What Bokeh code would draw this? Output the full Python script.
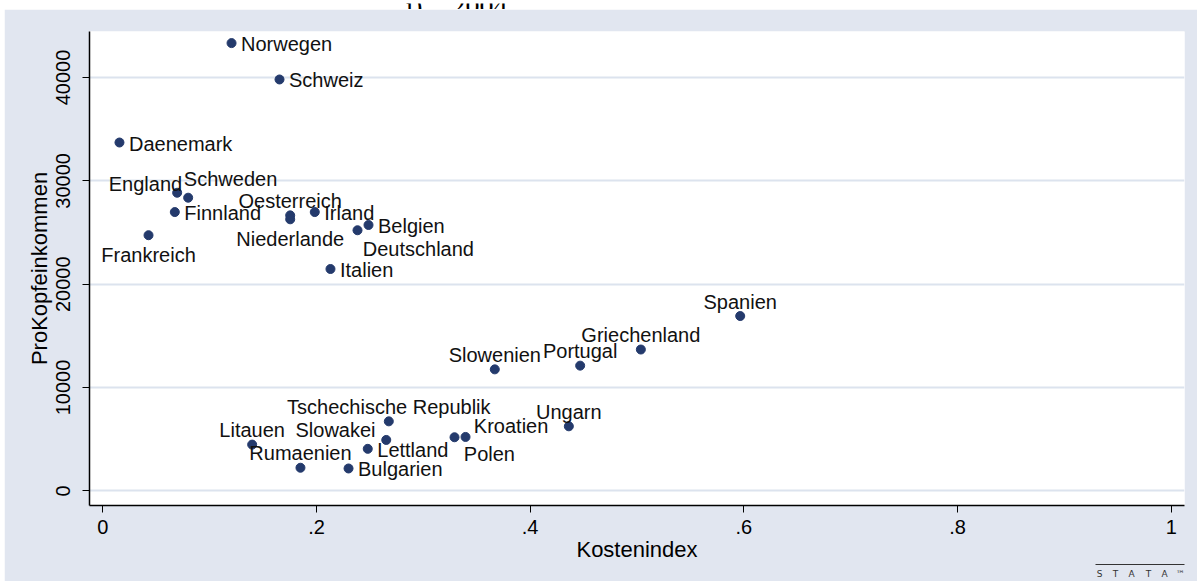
from bokeh.plotting import figure
from bokeh.layouts import column, row
from bokeh.models import (ColumnDataSource, Range1d, FixedTicker, Spacer, LinearAxis)
from bokeh.embed import file_html
from bokeh.resources import INLINE
from bokeh.core.properties import value

# ---------------- data ----------------
countries = ["Norwegen", "Schweiz", "Daenemark", "England", "Schweden", "Finnland",
             "Frankreich", "Oesterreich", "Niederlande", "Irland", "Belgien",
             "Deutschland", "Italien", "Spanien", "Griechenland", "Portugal",
             "Slowenien", "Tschechische Republik", "Ungarn", "Kroatien", "Polen",
             "Slowakei", "Litauen", "Lettland", "Rumaenien", "Bulgarien"]
kostenindex = [0.1205, 0.1654, 0.0156, 0.0696, 0.0799, 0.0674,
               0.0428, 0.1754, 0.1754, 0.1984, 0.2487,
               0.2384, 0.2131, 0.5966, 0.5036, 0.4468,
               0.3669, 0.2677, 0.4362, 0.3395, 0.3292,
               0.2653, 0.1398, 0.2480, 0.1850, 0.2300]
prokopfeinkommen = [43330, 39810, 33710, 28850, 28370, 26980,
                    24740, 26660, 26280, 26980, 25730,
                    25220, 21470, 16920, 13680, 12120,
                    11760, 6730, 6250, 5220, 5190,
                    4930, 4480, 4070, 2240, 2170]
# marker-label clock position (as in Stata's mlabvposition)
label_clock = [3, 3, 3, 10, 1, 3,
               6, 12, 6, 3, 3,
               5, 3, 12, 12, 12,
               12, 12, 12, 2, 4,
               11, 12, 3, 12, 3]

x_ticks = [0, 0.2, 0.4, 0.6, 0.8, 1]
x_tick_labels = ["0", ".2", ".4", ".6", ".8", "1"]
y_ticks = [0, 10000, 20000, 30000, 40000]
y_tick_labels = ["0", "10000", "20000", "30000", "40000"]

x_title = "Kostenindex"
y_title = "ProKopfeinkommen"
page_title_parts = ["j)", "2004"]
logo_letters = ["S", "T", "A", "T", "A", "™"]

# ---------------- style ----------------
BG = "#E1E6F0"
GRID = "#DCE3EE"
NAVY = "#243A6C"
FONT = "Liberation Sans"

# clock position -> (x offset px, y offset px, align)
POS_STYLE = {
    3: (9.5, 1, "left"),
    12: (0, -14.5, "center"),
    6: (0, 20, "center"),
    1: (-4.3, -18.3, "left"),
    2: (8.3, -11.3, "left"),
    4: (9.3, 16.7, "left"),
    5: (5.3, 19, "left"),
    10: (5, -8.3, "right"),
    11: (-10.7, -9.7, "right"),
}

W = 1197
TOP_H = 9          # white page strip above the graph (cropped page title)
LEFT_W = 4         # white page strip left of the graph
MAIN_H = 572
GW = W - LEFT_W
FRAME_L, FRAME_R = 89, 1184   # frame edges in page pixels

# ---- cropped page title (only its lower part is on the page) ----
top = figure(width=W, height=TOP_H, x_range=Range1d(0, W), y_range=Range1d(TOP_H, 0),
             output_backend="svg", toolbar_location=None,
             x_axis_type=None, y_axis_type=None, min_border=0,
             background_fill_color="white", border_fill_color="white")
top.outline_line_color = None
top.grid.visible = False
top.text(x=[405, 451], y=[2.5, 2.5], text=page_title_parts,
         text_font=value("Liberation Serif"), text_font_size="28px",
         text_color="black", text_baseline="alphabetic", text_align="left")

# ---- main scatter ----
src = ColumnDataSource(dict(
    x=kostenindex, y=prokopfeinkommen, name=countries,
    dx=[POS_STYLE[c][0] for c in label_clock],
    dy=[POS_STYLE[c][1] for c in label_clock],
    align=[POS_STYLE[c][2] for c in label_clock],
))

p = figure(width=GW, height=MAIN_H,
           x_range=Range1d(-0.01245, 1.01245), y_range=Range1d(-1413, 44452),
           output_backend="svg", toolbar_location=None,
           background_fill_color="white", border_fill_color=BG,
           min_border_left=FRAME_L - LEFT_W, min_border_right=W - FRAME_R,
           min_border_top=22, min_border_bottom=73)
p.outline_line_color = None

p.xgrid.visible = False
p.ygrid.grid_line_color = GRID
p.ygrid.grid_line_width = 2
p.ygrid.ticker = FixedTicker(ticks=y_ticks)

for ax in (p.xaxis[0], p.yaxis[0]):
    ax.axis_line_color = "black"
    ax.axis_line_width = 1.5
    ax.major_tick_line_color = "black"
    ax.major_tick_line_width = 1
    ax.major_tick_out = 7
    ax.major_tick_in = 0
    ax.minor_tick_line_color = None
    ax.major_label_text_font = FONT
    ax.major_label_text_font_size = "20px"
    ax.major_label_text_color = "black"
    ax.axis_label_text_font = FONT
    ax.axis_label_text_font_size = "22px"
    ax.axis_label_text_font_style = "normal"
    ax.axis_label_text_color = "black"

p.xaxis.ticker = FixedTicker(ticks=x_ticks)
p.xaxis.major_label_overrides = dict(zip(x_ticks, x_tick_labels))
p.xaxis.major_label_standoff = 7
p.xaxis.axis_label = x_title
p.xaxis.axis_label_standoff = 0

p.yaxis.ticker = FixedTicker(ticks=y_ticks)
p.yaxis.major_label_overrides = dict(zip(y_ticks, y_tick_labels))
p.yaxis.major_label_orientation = "vertical"
p.yaxis.major_label_standoff = 12
p.yaxis.axis_label = y_title
p.yaxis.axis_label_standoff = 2

p.scatter("x", "y", source=src, size=9, color=NAVY, line_color=NAVY)
p.text("x", "y", text="name", source=src, x_offset="dx", y_offset="dy",
       text_align="align", text_baseline="middle",
       text_font=value(FONT), text_font_size="20px", text_color="#111111")

# ---- stata logo: a decorative second bottom axis in page-pixel units ----
p.extra_x_ranges = {"page": Range1d(FRAME_L, FRAME_R)}
logo_pos = [1099, 1115, 1131, 1148, 1164, 1180]
logo_axis = LinearAxis(x_range_name="page", ticker=FixedTicker(ticks=logo_pos),
                       major_label_overrides=dict(zip(logo_pos, logo_letters)),
                       bounds=(1095, FRAME_R),
                       axis_line_color="#333333", axis_line_width=1,
                       major_tick_line_color=None, minor_tick_line_color=None,
                       major_tick_in=0, major_tick_out=0,
                       major_label_standoff=4,
                       major_label_text_font="DejaVu Sans",
                       major_label_text_font_size="9px",
                       major_label_text_color="#333333")
p.add_layout(logo_axis, "below")

layout = column(top,
                row(Spacer(width=LEFT_W, height=MAIN_H), p, spacing=0),
                spacing=0)

open("out.html", "w").write(file_html(layout, INLINE))
